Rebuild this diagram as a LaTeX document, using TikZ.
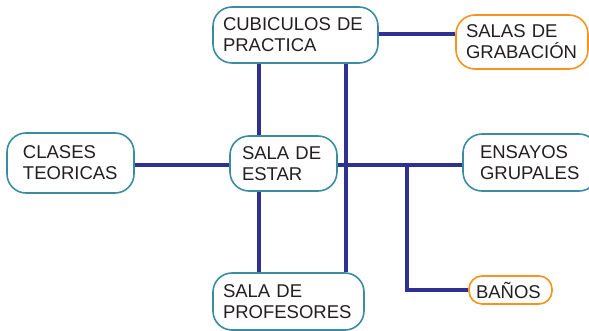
\documentclass[tikz,border=0pt]{standalone}
\usepackage{fontspec}
\setmainfont{Liberation Sans}
\usepackage{tikz}
\usepackage{xcolor}

\definecolor{azulLinea}{HTML}{2E3192}
\definecolor{bordeSala}{HTML}{3A8CA2}
\definecolor{bordeNaranja}{HTML}{F7941D}
\definecolor{texto}{HTML}{231F20}

\tikzset{
  sala/.style={draw=bordeSala, line width=1.6pt, rounded corners=19pt, fill=white,
    align=left, inner ysep=0pt, text=texto,
    font=\fontsize{18.5}{21}\selectfont},
  salaNaranja/.style={sala, draw=bordeNaranja},
  enlace/.style={draw=azulLinea, line width=3.2pt}
}

\begin{document}
\begin{tikzpicture}[x=1pt,y=-1pt]
\useasboundingbox (0,0) rectangle (589,331);
% conexiones
\coordinate (vIzq) at (259,0);
\coordinate (vDer) at (346,0);
\coordinate (ramal) at (407,165);
% salas
\node[sala, text width=145pt, inner xsep=10pt, minimum height=56pt] (cubiculos) at (295.5,35) {CUBICULOS DE\\PRACTICA};
\node[salaNaranja, text width=112pt, inner xsep=10pt, minimum height=54pt] (grabacion) at (522,42) {SALAS DE\\GRABACIÓN};
\node[sala, text width=95pt, inner xsep=16pt, minimum height=60pt] (clases) at (70.5,163) {CLASES\\TEORICAS};
\node[sala, text width=83pt, inner xsep=12pt, minimum height=55pt] (estar) at (283.5,163.5) {SALA DE\\ESTAR};
\node[sala, text width=101pt, inner xsep=17pt, minimum height=57pt] (ensayos) at (530.5,162.5) {ENSAYOS\\GRUPALES};
\node[sala, text width=131pt, inner xsep=10pt, minimum height=57pt] (profesores) at (288.5,301.5) {SALA DE\\PROFESORES};
\node[salaNaranja, rounded corners=13pt, text width=69pt, inner xsep=7pt, minimum height=28pt] (banos) at (510.5,290) {BAÑOS};

\draw[enlace] (clases.east |- 0,165) -- (estar.west |- 0,165);
\draw[enlace] (cubiculos.south -| vIzq) -- (estar.north -| vIzq);
\draw[enlace] (estar.south -| vIzq) -- (profesores.north -| vIzq);
\draw[enlace] (cubiculos.east |- 0,34) -- (grabacion.west |- 0,34);
\draw[enlace] (cubiculos.south -| vDer) -- (profesores.north -| vDer);
\draw[enlace] (estar.east |- 0,165) -- (ensayos.west |- 0,165);
\draw[enlace] (ramal) |- (banos.west);
\end{tikzpicture}
\end{document}
